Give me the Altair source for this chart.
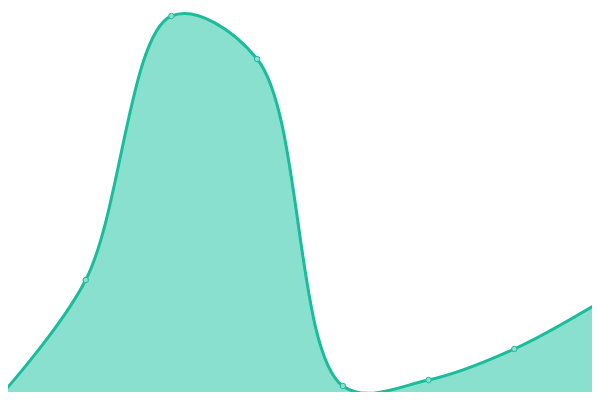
import altair as alt
import pandas as pd

steps = [0, 1, 2, 3, 4, 5, 6, 7]
values = [4, 120, 384, 341, 14, 20, 51, 98]

df = pd.DataFrame({"step": steps, "value": values})

x = alt.X("step:Q", axis=None, scale=alt.Scale(domain=[0.0933, 6.9067], nice=False, zero=False))
y = alt.Y("value:Q", axis=None, scale=alt.Scale(domain=[8, 392], nice=False, zero=False))

base = alt.Chart(df)
area = base.mark_area(interpolate="catmull-rom", color="#8ae0cf", clip=True).encode(x=x, y=y, y2=alt.datum(0))
line = base.mark_line(interpolate="catmull-rom", color="#1abc9c", strokeWidth=3, clip=True).encode(x=x, y=y)
pts = base.mark_point(filled=True, fill="#8ae0cf", stroke="#1abc9c", strokeWidth=1, size=30, opacity=1, clip=True).encode(x=x, y=y)

chart = (area + line + pts).properties(width=584, height=384, padding=0).configure_view(stroke=None)
chart.save("out.html", embed_options={"renderer": "svg", "actions": False})
